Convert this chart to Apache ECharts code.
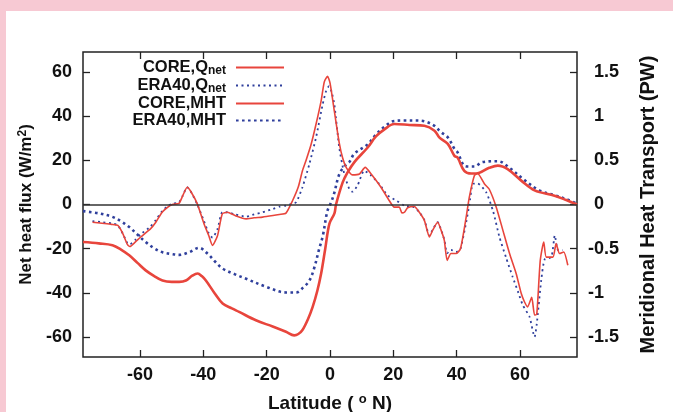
<!DOCTYPE html>
<html>
<head>
<meta charset="utf-8">
<script src="https://cdn.jsdelivr.net/npm/echarts@6/dist/echarts.min.js"></script>
<style>
html, body { margin: 0; padding: 0; background: #f7c9d3; }
#panel { position: absolute; left: 6px; top: 11px; width: 667px; height: 401px; background: #fff; }
#chart { position: absolute; left: 0; top: 0; width: 673px; height: 412px; }
</style>
</head>
<body>
<div id="panel"></div>
<div id="chart"></div>
<script>
// latitude (deg N) and net heat flux (W/m2)
var coreQnetLat = [-75, -72, -69, -67, -65.5, -64, -63.2, -61.5, -59.8, -56.7, -55, -53, -51, -49.8, -47.7, -46.5, -45.1, -44, -41.9, -39.8, -38.3, -37.1, -35.5, -34, -32.4, -30, -26.5, -24, -21.3, -18, -16, -13.9, -11.8, -10, -8.7, -7.6, -6, -4.4, -2.8, -1.8, -0.8, 0, 1.4, 2.9, 4, 5.1, 7.1, 9.3, 11.1, 13, 16.1, 18.7, 20.3, 21.9, 22.7, 23.5, 24.5, 26.6, 28.2, 29.8, 31.4, 32.4, 34, 35.1, 36.1, 37, 38.2, 39.8, 41.2, 43, 44, 45.6, 46.6, 48.8, 50.3, 52.5, 54.6, 56.7, 58.8, 60.4, 61.4, 62.4, 63.7, 64.6, 65.3, 66.4, 67.5, 68.3, 70.4, 71.4, 72.5, 73.8, 75.1];
var coreQnetVal = [-8, -8.5, -9, -9.5, -13, -18, -19, -17, -14.7, -11, -8, -3.5, -1, 0, 0.5, 4, 7.8, 6, 0.3, -8.7, -14, -18.5, -14, -4.2, -3.5, -5, -6.5, -6, -5.7, -5, -4.5, -3.9, 1.8, 8, 15.3, 19.8, 27, 36.4, 46.9, 55.5, 58, 55, 42, 28, 21, 16.8, 13.4, 13.8, 16.8, 13.8, 7.8, 1.8, -1.2, -1.2, -3.8, -3.5, -1.5, -0.9, -3.5, -7.2, -14.7, -11.7, -8, -11.7, -16.2, -25.3, -22.2, -22.2, -20, -5.7, 3.3, 13.1, 14, 9.3, 6.9, -1.2, -11.7, -22.2, -31.3, -40.3, -44, -46.3, -42, -50, -49.6, -25.3, -17, -23.8, -23.8, -17.7, -22.2, -21.5, -27.5];

var eraQnetLat = [-75, -72, -69, -67, -65.5, -64, -63.2, -61.5, -59.8, -56.7, -55, -53, -51, -49.8, -47.7, -46.5, -45.1, -44, -41.9, -39.8, -38.3, -37.1, -35.5, -34, -32.4, -30, -26.5, -24, -21.3, -18, -16, -13.9, -12.8, -10.7, -8.7, -6.5, -4.4, -2.3, -1.2, -0.3, 0.5, 1.4, 2.9, 4.5, 6.1, 7.1, 8.7, 10.8, 13, 15.5, 18.2, 20.9, 23.5, 26.6, 28.2, 29.8, 31.4, 32.4, 34, 35.1, 36.1, 37, 38.2, 39.8, 41.2, 43, 44, 45.1, 46.6, 49.3, 51.5, 53.5, 55.6, 57.7, 59.5, 60.9, 63, 64.6, 65.3, 66.7, 67.8, 69.9, 71, 72, 73.5];
var eraQnetVal = [-7.5, -8, -8.5, -9.5, -13, -17.5, -18, -16, -13.5, -10, -7, -3, -0.5, 0.3, 1, 4, 7.8, 6, 0, -7.5, -13, -15, -11, -3.5, -3.5, -4.5, -5.5, -4.5, -3.5, -2, -1, -0.5, 0, 1, 7.8, 18.4, 30.4, 45.4, 51.5, 53.5, 51, 45, 26, 13.8, 7, 5.8, 8.6, 15.3, 13.1, 9.4, 4.1, 1.8, -0.5, -1.2, -3.5, -7, -14, -11.5, -8, -11.5, -16, -22, -20.5, -21.5, -20, -8, 0, 9.3, 9.5, 5.6, -3, -14.7, -24, -32.8, -40, -45.6, -50.8, -59.9, -54, -34.3, -24.8, -23.8, -14, -20.6, -20.6];

// latitude (deg N) and meridional heat transport (PW)
var coreMhtLat = [-78, -73, -68.7, -66, -63.4, -60.8, -58.2, -55.5, -52.9, -50, -47.6, -45.5, -43.5, -41.8, -40.5, -39.2, -36.5, -33.9, -31, -28.7, -23.4, -18.1, -13.9, -11.3, -10, -8.7, -7, -5.5, -4, -2.8, -1.5, -0.2, 1.4, 1.9, 4, 5.5, 7.7, 11.9, 14.5, 17.2, 20.3, 25.1, 29.8, 33, 34.5, 37.2, 39.3, 40.3, 42.4, 44.6, 46.1, 50.3, 53, 56.1, 60.4, 64.6, 70.9, 74.6, 78];
var coreMhtVal = [-0.425, -0.44, -0.46, -0.51, -0.575, -0.66, -0.745, -0.81, -0.86, -0.875, -0.875, -0.86, -0.805, -0.78, -0.81, -0.86, -1.0, -1.12, -1.175, -1.215, -1.31, -1.38, -1.44, -1.48, -1.465, -1.42, -1.3, -1.16, -0.975, -0.78, -0.5, -0.22, -0.1, 0.0, 0.25, 0.36, 0.48, 0.645, 0.77, 0.85, 0.91, 0.9, 0.89, 0.835, 0.76, 0.685, 0.55, 0.53, 0.38, 0.35, 0.35, 0.415, 0.44, 0.40, 0.27, 0.16, 0.10, 0.05, 0.0];

var eraMhtLat = [-78, -73, -68.7, -66, -63.4, -60.8, -58.2, -55.5, -52.9, -50, -47.6, -44.5, -41.3, -38.7, -36.3, -33.9, -30, -26.5, -20.2, -13.9, -10.7, -8.5, -6.5, -5, -3.4, -2.3, -0.8, 0.3, 1.3, 2.9, 4.5, 6.1, 7.7, 11.9, 14.5, 17.2, 20.3, 24, 27.2, 30, 33, 35, 37.2, 39.3, 40.3, 42.4, 44, 45.6, 48.2, 53, 57.2, 60.9, 66.1, 71.4, 74.6, 78];
var eraMhtVal = [-0.075, -0.10, -0.14, -0.19, -0.255, -0.34, -0.425, -0.495, -0.54, -0.56, -0.57, -0.54, -0.49, -0.555, -0.645, -0.725, -0.79, -0.84, -0.93, -0.995, -0.995, -0.94, -0.86, -0.72, -0.5, -0.36, -0.07, 0.02, 0.125, 0.34, 0.43, 0.48, 0.575, 0.68, 0.79, 0.88, 0.945, 0.95, 0.95, 0.94, 0.89, 0.82, 0.76, 0.63, 0.59, 0.44, 0.43, 0.43, 0.48, 0.49, 0.40, 0.29, 0.16, 0.10, 0.06, 0.01];

var latTicks = [-60, -40, -20, 0, 20, 40, 60];
var fluxTicks = [-60, -40, -20, 0, 20, 40, 60];
var pwTicks = [-1.5, -1, -0.5, 0, 0.5, 1, 1.5];

var red = '#e8453c';
var blue = '#2f3f9c';
var font = 'Liberation Sans, Arial, sans-serif';

function pairs(xs, ys) {
    return xs.map(function (x, i) { return [x, ys[i]]; });
}

var chart = echarts.init(document.getElementById('chart'), null, { renderer: 'canvas' });

var labelStyle = { fontFamily: font, fontWeight: 'bold', fontSize: 18, color: '#111' };
var tickStyle = { color: '#222', width: 1.3 };

var option = {
    animation: false,
    backgroundColor: 'transparent',
    grid: {
        left: 83, right: 96, top: 52, bottom: 55,
        containLabel: false,
        outerBoundsMode: 'none',
        show: true, borderColor: '#222', borderWidth: 1.5, backgroundColor: 'transparent'
    },
    legend: {
        orient: 'vertical',
        align: 'right',
        right: 383,
        top: 54,
        itemGap: 0,
        itemWidth: 48,
        itemHeight: 12,
        itemStyle: { opacity: 0 },
        data: ['CORE,Qnet', 'ERA40,Qnet', 'CORE,MHT', 'ERA40,MHT'],
        formatter: function (name) {
            return name.replace('Qnet', 'Q{s|net}');
        },
        textStyle: {
            fontFamily: font, fontWeight: 'bold', fontSize: 16.5, color: '#111', lineHeight: 17,
            padding: [0, 5, 0, 0],
            rich: { s: { fontFamily: font, fontWeight: 'bold', fontSize: 12, color: '#111', padding: [7, 0, 0, 0] } }
        }
    },
    xAxis: [{
        type: 'value', position: 'bottom', min: -78, max: 78,
        axisLine: { show: false, onZero: false },
        axisTick: { show: true, inside: true, length: 7, customValues: latTicks, lineStyle: tickStyle },
        axisLabel: Object.assign({ customValues: latTicks, margin: 9 }, labelStyle),
        splitLine: { show: false },
        name: 'Latitude ( {sup|o} N)',
        nameLocation: 'middle',
        nameGap: 36,
        nameTextStyle: {
            fontFamily: font, fontWeight: 'bold', fontSize: 19, color: '#111',
            rich: { sup: { fontFamily: font, fontWeight: 'bold', fontSize: 13, color: '#111', padding: [0, 0, 9, 0] } }
        }
    }, {
        type: 'value', position: 'top', min: -78, max: 78,
        axisLine: { show: false, onZero: false },
        axisTick: { show: true, inside: true, length: 7, customValues: latTicks, lineStyle: tickStyle },
        axisLabel: { show: false },
        splitLine: { show: false }
    }],
    yAxis: [{
        type: 'value', position: 'left', min: -69, max: 69,
        axisLine: { show: false, onZero: false },
        axisTick: { show: true, inside: true, length: 7, customValues: fluxTicks, lineStyle: tickStyle },
        axisLabel: Object.assign({ customValues: fluxTicks, margin: 11 }, labelStyle),
        splitLine: { show: false },
        name: 'Net heat flux (W/m{sup|2})',
        nameLocation: 'middle',
        nameGap: 37,
        nameTextStyle: {
            fontFamily: font, fontWeight: 'bold', fontSize: 17, color: '#111',
            rich: { sup: { fontFamily: font, fontWeight: 'bold', fontSize: 12, color: '#111', padding: [0, 0, 8, 0] } }
        }
    }, {
        type: 'value', position: 'right', min: -1.725, max: 1.725,
        axisLine: { show: false, onZero: false },
        axisTick: { show: true, inside: true, length: 7, customValues: pwTicks, lineStyle: tickStyle },
        axisLabel: Object.assign({
            customValues: pwTicks, margin: 11,
            formatter: function (v) { return v < 0 ? String(v) : '{p|' + v + '}'; },
            rich: { p: { fontFamily: font, fontWeight: 'bold', fontSize: 18, color: '#111', padding: [0, 0, 0, 6] } }
        }, labelStyle),
        splitLine: { show: false },
        name: 'Meridional Heat Transport (PW)',
        nameLocation: 'middle',
        nameGap: 61,
        nameTextStyle: { fontFamily: font, fontWeight: 'bold', fontSize: 20, color: '#111' }
    }],
    series: [{
        name: 'CORE,Qnet', type: 'line', xAxisIndex: 0, yAxisIndex: 0,
        data: pairs(coreQnetLat, coreQnetVal),
        symbol: 'none', smooth: 0.2, z: 4,
        itemStyle: { color: red },
        lineStyle: { color: red, width: 1.6 },
        markLine: {
            silent: true, symbol: 'none', label: { show: false },
            lineStyle: { color: '#333', width: 1.5, type: 'solid' },
            data: [{ yAxis: 0 }]
        }
    }, {
        name: 'ERA40,Qnet', type: 'line', xAxisIndex: 0, yAxisIndex: 0,
        data: pairs(eraQnetLat, eraQnetVal),
        symbol: 'none', smooth: 0.2, z: 3,
        itemStyle: { color: blue },
        lineStyle: { color: blue, width: 1.8, type: [2, 3.5] }
    }, {
        name: 'CORE,MHT', type: 'line', xAxisIndex: 0, yAxisIndex: 1,
        data: pairs(coreMhtLat, coreMhtVal),
        symbol: 'none', smooth: 0.35, z: 4,
        itemStyle: { color: red },
        lineStyle: { color: red, width: 2.6 }
    }, {
        name: 'ERA40,MHT', type: 'line', xAxisIndex: 0, yAxisIndex: 1,
        data: pairs(eraMhtLat, eraMhtVal),
        symbol: 'none', smooth: 0.35, z: 3,
        itemStyle: { color: blue },
        lineStyle: { color: blue, width: 2.6, type: [2.6, 3.4] }
    }]
};

chart.setOption(option);
</script>
</body>
</html>
